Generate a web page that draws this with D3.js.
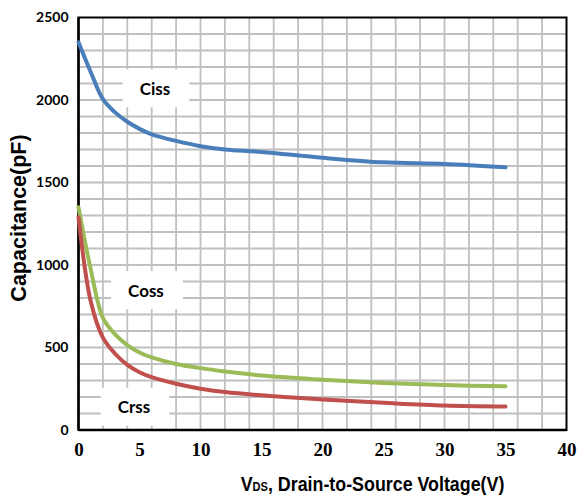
<!DOCTYPE html>
<html>
<head>
<meta charset="utf-8">
<script src="https://cdn.jsdelivr.net/npm/d3@7"></script>
<style>
  body { margin: 0; background: #fff; }
  svg { display: block; }
</style>
</head>
<body>
<div id="chart"></div>
<script>
// values (pF vs V)
var vds  = [0, 1, 2, 3, 4, 5, 6, 8, 10, 12, 15, 20, 25, 30, 35];
var ciss = [2350, 2170, 2005, 1925, 1868, 1825, 1792, 1752, 1720, 1700, 1685, 1650, 1622, 1612, 1592];
var coss = [1350, 975, 680, 580, 515, 470, 440, 400, 375, 355, 330, 305, 285, 272, 265];
var crss = [1290, 780, 560, 462, 395, 350, 320, 280, 250, 230, 210, 185, 165, 148, 142];

var xTicks = [0, 5, 10, 15, 20, 25, 30, 35, 40];
var yTicks = [0, 500, 1000, 1500, 2000, 2500];

var labelNames = ["Ciss", "Coss", "Crss"];
var labelV = [6.27, 5.53, 4.55];
var labelC = [2071, 848, 141];

var svgWidth = 577;
var svgHeight = 496;
var margin = { top: 17.5, right: 10.5, bottom: 66, left: 78.5 };
var width = svgWidth - margin.left - margin.right;
var height = svgHeight - margin.top - margin.bottom;

var svg = d3.select("#chart").append("svg")
    .attr("width", svgWidth)
    .attr("height", svgHeight)
    .append("g")
    .attr("transform", "translate(" + margin.left + "," + margin.top + ")");

var xScale = d3.scaleLinear().domain([0, 40]).range([0, width]);
var yScale = d3.scaleLinear().domain([0, 2500]).range([height, 0]);

// grid
svg.append("g")
    .selectAll("line")
    .data(d3.range(2, 40, 2))
    .enter().append("line")
    .attr("x1", d => xScale(d)).attr("x2", d => xScale(d))
    .attr("y1", 0).attr("y2", height)
    .attr("stroke", "#c0c0c0").attr("stroke-width", 1.8);

svg.append("g")
    .selectAll("line")
    .data(d3.range(100, 2500, 100))
    .enter().append("line")
    .attr("x1", 0).attr("x2", width)
    .attr("y1", d => yScale(d)).attr("y2", d => yScale(d))
    .attr("stroke", "#c0c0c0").attr("stroke-width", 1.8);

// frame
svg.append("rect")
    .attr("width", width).attr("height", height)
    .attr("fill", "none").attr("stroke", "#000").attr("stroke-width", 2);
svg.append("line")
    .attr("x1", 0).attr("x2", 0).attr("y1", 0).attr("y2", height)
    .attr("stroke", "#000").attr("stroke-width", 2.5);
svg.append("line")
    .attr("x1", 0).attr("x2", width).attr("y1", height).attr("y2", height)
    .attr("stroke", "#000").attr("stroke-width", 2.5);

// labels with white boxes
labelNames.forEach(function (name, i) {
    var g = svg.append("g");
    var box = g.append("rect").attr("fill", "#fff");
    var t = g.append("text")
        .attr("x", xScale(labelV[i]))
        .attr("y", yScale(labelC[i]))
        .attr("text-anchor", "middle")
        .attr("dominant-baseline", "central")
        .style("font-family", "Lato, 'Open Sans', sans-serif")
        .style("font-weight", "bold")
        .style("font-size", "17px")
        .attr("fill", "#000")
        .text(name);
    var bb = t.node().getBBox();
    box.attr("x", bb.x - 17).attr("y", bb.y + bb.height / 2 - 19)
        .attr("width", bb.width + 36).attr("height", 38);
});

// curves
var line = d3.line()
    .x((d, i) => xScale(vds[i]))
    .y(d => yScale(d))
    .curve(d3.curveCatmullRom.alpha(0.5));

[[ciss, "#4a7ebb"], [coss, "#9bbb59"], [crss, "#c0504d"]].forEach(function (s) {
    svg.append("path")
        .datum(s[0])
        .attr("d", line)
        .attr("fill", "none")
        .attr("stroke", s[1])
        .attr("stroke-width", 4)
        .attr("stroke-linecap", "round")
        .attr("stroke-linejoin", "round");
});

// axes (labels only)
var yAxis = svg.append("g")
    .call(d3.axisLeft(yScale).tickValues(yTicks).tickFormat(d3.format("d")).tickSize(0).tickPadding(10));
yAxis.select(".domain").remove();
yAxis.selectAll("text")
    .style("font-family", "Lato, 'Open Sans', sans-serif")
    .style("font-weight", "bold")
    .style("font-size", "14px")
    .attr("fill", "#000");

var xAxis = svg.append("g")
    .attr("transform", "translate(0," + height + ")")
    .call(d3.axisBottom(xScale).tickValues(xTicks).tickFormat(d3.format("d")).tickSize(0).tickPadding(13));
xAxis.select(".domain").remove();
xAxis.attr("font-family", null);
xAxis.selectAll("text")
    .style("font-family", "'Liberation Serif', 'Times New Roman', serif")
    .style("font-weight", "bold")
    .style("font-size", "19px")
    .attr("fill", "#000");

// axis titles (x title squeezed a little, the original font is narrow)
var xTitle = svg.append("text")
    .attr("transform", "translate(" + ((240 + 505) / 2 - margin.left) + "," + (491 - margin.top) + ") scale(0.85,1)")
    .style("text-anchor", "middle")
    .style("font-family", "'Liberation Sans', Arial, sans-serif")
    .style("font-weight", "bold")
    .style("font-size", "21px")
    .attr("fill", "#000");
xTitle.append("tspan").text("V");
xTitle.append("tspan").style("font-size", "13px").text("DS");
xTitle.append("tspan").text(", Drain-to-Source Voltage(V)");

svg.append("text")
    .attr("transform", "rotate(-90)")
    .attr("x", -(218 - margin.top))
    .attr("y", 26 - margin.left)
    .style("text-anchor", "middle")
    .style("font-family", "'Liberation Sans', Arial, sans-serif")
    .style("font-weight", "bold")
    .style("font-size", "21.5px")
    .attr("fill", "#000")
    .text("Capacitance(pF)");
</script>
</body>
</html>
